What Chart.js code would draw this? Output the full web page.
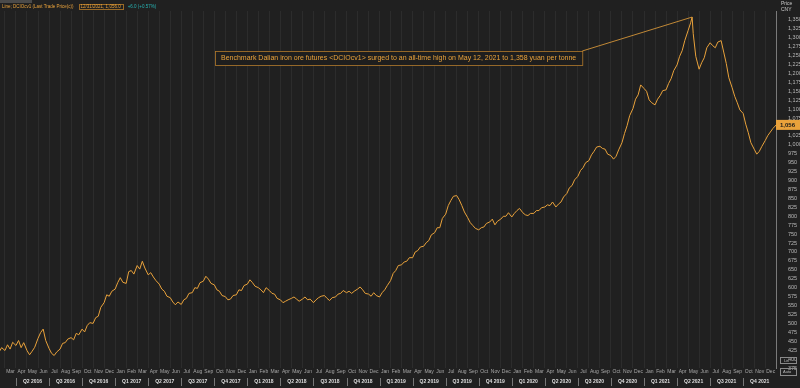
<!DOCTYPE html>
<html>
<head>
<meta charset="utf-8">
<script src="https://cdn.jsdelivr.net/npm/chart.js@4.4.1/dist/chart.umd.min.js"></script>
<style>
  html, body { margin: 0; padding: 0; background: #202020; }
  #wrap { width: 800px; height: 388px; }
</style>
</head>
<body>
<div id="wrap"><canvas id="chart" width="800" height="388"></canvas></div>
<script>
// weekly closes (CNY per tonne)
const dates = [
  '2016-02-15', '2016-02-22',
  '2016-03-01', '2016-03-08', '2016-03-15', '2016-03-22', '2016-04-01', '2016-04-08', '2016-04-15', '2016-04-22',
  '2016-05-01', '2016-05-08', '2016-05-15', '2016-05-22', '2016-06-01', '2016-06-08', '2016-06-15', '2016-06-22',
  '2016-07-01', '2016-07-08', '2016-07-15', '2016-07-22', '2016-08-01', '2016-08-08', '2016-08-15', '2016-08-22',
  '2016-09-01', '2016-09-08', '2016-09-15', '2016-09-22', '2016-10-01', '2016-10-08', '2016-10-15', '2016-10-22',
  '2016-11-01', '2016-11-08', '2016-11-15', '2016-11-22', '2016-12-01', '2016-12-08', '2016-12-15', '2016-12-22',
  '2017-01-01', '2017-01-08', '2017-01-15', '2017-01-22', '2017-02-01', '2017-02-08', '2017-02-15', '2017-02-22',
  '2017-03-01', '2017-03-08', '2017-03-15', '2017-03-22', '2017-04-01', '2017-04-08', '2017-04-15', '2017-04-22',
  '2017-05-01', '2017-05-08', '2017-05-15', '2017-05-22', '2017-06-01', '2017-06-08', '2017-06-15', '2017-06-22',
  '2017-07-01', '2017-07-08', '2017-07-15', '2017-07-22', '2017-08-01', '2017-08-08', '2017-08-15', '2017-08-22',
  '2017-09-01', '2017-09-08', '2017-09-15', '2017-09-22', '2017-10-01', '2017-10-08', '2017-10-15', '2017-10-22',
  '2017-11-01', '2017-11-08', '2017-11-15', '2017-11-22', '2017-12-01', '2017-12-08', '2017-12-15', '2017-12-22',
  '2018-01-01', '2018-01-08', '2018-01-15', '2018-01-22', '2018-02-01', '2018-02-08', '2018-02-15', '2018-02-22',
  '2018-03-01', '2018-03-08', '2018-03-15', '2018-03-22', '2018-04-01', '2018-04-08', '2018-04-15', '2018-04-22',
  '2018-05-01', '2018-05-08', '2018-05-15', '2018-05-22', '2018-06-01', '2018-06-08', '2018-06-15', '2018-06-22',
  '2018-07-01', '2018-07-08', '2018-07-15', '2018-07-22', '2018-08-01', '2018-08-08', '2018-08-15', '2018-08-22',
  '2018-09-01', '2018-09-08', '2018-09-15', '2018-09-22', '2018-10-01', '2018-10-08', '2018-10-15', '2018-10-22',
  '2018-11-01', '2018-11-08', '2018-11-15', '2018-11-22', '2018-12-01', '2018-12-08', '2018-12-15', '2018-12-22',
  '2019-01-01', '2019-01-08', '2019-01-15', '2019-01-22', '2019-02-01', '2019-02-08', '2019-02-15', '2019-02-22',
  '2019-03-01', '2019-03-08', '2019-03-15', '2019-03-22', '2019-04-01', '2019-04-08', '2019-04-15', '2019-04-22',
  '2019-05-01', '2019-05-08', '2019-05-15', '2019-05-22', '2019-06-01', '2019-06-08', '2019-06-15', '2019-06-22',
  '2019-07-01', '2019-07-08', '2019-07-15', '2019-07-22', '2019-08-01', '2019-08-08', '2019-08-15', '2019-08-22',
  '2019-09-01', '2019-09-08', '2019-09-15', '2019-09-22', '2019-10-01', '2019-10-08', '2019-10-15', '2019-10-22',
  '2019-11-01', '2019-11-08', '2019-11-15', '2019-11-22', '2019-12-01', '2019-12-08', '2019-12-15', '2019-12-22',
  '2020-01-01', '2020-01-08', '2020-01-15', '2020-01-22', '2020-02-01', '2020-02-08', '2020-02-15', '2020-02-22',
  '2020-03-01', '2020-03-08', '2020-03-15', '2020-03-22', '2020-04-01', '2020-04-08', '2020-04-15', '2020-04-22',
  '2020-05-01', '2020-05-08', '2020-05-15', '2020-05-22', '2020-06-01', '2020-06-08', '2020-06-15', '2020-06-22',
  '2020-07-01', '2020-07-08', '2020-07-15', '2020-07-22', '2020-08-01', '2020-08-08', '2020-08-15', '2020-08-22',
  '2020-09-01', '2020-09-08', '2020-09-15', '2020-09-22', '2020-10-01', '2020-10-08', '2020-10-15', '2020-10-22',
  '2020-11-01', '2020-11-08', '2020-11-15', '2020-11-22', '2020-12-01', '2020-12-08', '2020-12-15', '2020-12-22',
  '2021-01-01', '2021-01-08', '2021-01-15', '2021-01-22', '2021-02-01', '2021-02-08', '2021-02-15', '2021-02-22',
  '2021-03-01', '2021-03-08', '2021-03-15', '2021-03-22', '2021-04-01', '2021-04-08', '2021-04-15', '2021-04-22',
  '2021-05-01', '2021-05-08', '2021-05-12', '2021-05-15', '2021-05-22', '2021-06-01', '2021-06-08', '2021-06-15', '2021-06-22',
  '2021-07-01', '2021-07-08', '2021-07-15', '2021-07-22', '2021-08-01', '2021-08-08', '2021-08-15', '2021-08-22',
  '2021-09-01', '2021-09-08', '2021-09-15', '2021-09-22', '2021-10-01', '2021-10-08', '2021-10-15', '2021-10-22',
  '2021-11-01', '2021-11-08', '2021-11-15', '2021-11-22', '2021-12-01', '2021-12-08', '2021-12-15', '2021-12-22', '2021-12-31'
]
const prices = [
  420, 432,
  424, 440, 428, 447, 438, 452, 432, 446,
  424, 412, 422, 433, 458, 474, 484, 452,
  430, 416, 410, 420, 428, 444, 446, 456,
  460, 454, 472, 468, 484, 476, 494, 502,
  500, 516, 520, 545, 558, 580, 576, 590,
  596, 614, 628, 615, 612, 645, 648, 638,
  662, 652, 674, 655, 636, 642, 630, 620,
  610, 596, 590, 576, 572, 560, 552, 560,
  553, 566, 570, 584, 586, 600, 598, 614,
  618, 632, 624, 612, 608, 594, 590, 578,
  575, 566, 568, 578, 580, 594, 592, 606,
  610, 622, 614, 604, 600, 594, 586, 600,
  592, 584, 582, 570, 566, 558, 562, 566,
  570, 574, 568, 562, 568, 574, 566, 568,
  558, 566, 572, 576, 578, 570, 564, 572,
  574, 582, 584, 592, 586, 590, 584, 590,
  596, 602, 594, 584, 582, 576, 586, 578,
  574, 586, 594, 606, 620, 640, 648, 662,
  664, 672, 674, 684, 684, 700, 704, 714,
  716, 726, 732, 748, 754, 768, 768, 794,
  806, 830, 844, 856, 858, 846, 830, 812,
  796, 782, 774, 766, 762, 768, 770, 780,
  784, 792, 776, 786, 792, 800, 800, 810,
  798, 808, 816, 822, 810, 804, 802, 808,
  808, 816, 816, 824, 826, 832, 830, 840,
  826, 834, 840, 854, 864, 880, 886, 902,
  912, 928, 936, 950, 956, 972, 982, 994,
  996, 990, 988, 974, 970, 960, 968, 986,
  1006, 1032, 1054, 1082, 1102, 1128, 1140, 1168,
  1158, 1150, 1126, 1118, 1112, 1128, 1138, 1152,
  1154, 1172, 1186, 1208, 1224, 1248, 1264, 1292,
  1320, 1342, 1358, 1312, 1248, 1212, 1230, 1244, 1272,
  1286, 1278, 1272, 1288, 1292, 1260, 1228, 1188,
  1160, 1136, 1118, 1098, 1088, 1058, 1034, 1006,
  988, 974, 982, 996, 1012, 1026, 1036, 1046, 1056
]
const monthNames = ['Jan', 'Feb', 'Mar', 'Apr', 'May', 'Jun', 'Jul', 'Aug', 'Sep', 'Oct', 'Nov', 'Dec']
const quarterLabels = [
  'Q2 2016', 'Q3 2016', 'Q4 2016', 'Q1 2017', 'Q2 2017', 'Q3 2017', 'Q4 2017', 'Q1 2018', 'Q2 2018', 'Q3 2018',
  'Q4 2018', 'Q1 2019', 'Q2 2019', 'Q3 2019', 'Q4 2019', 'Q1 2020', 'Q2 2020', 'Q3 2020', 'Q4 2020', 'Q1 2021',
  'Q2 2021', 'Q3 2021', 'Q4 2021'
]
const peakDate = '2021-05-12'
const peakPrice = 1358
const noteText = 'Benchmark Dalian iron ore futures <DCIOcv1> surged to an all-time high on May 12, 2021 to 1,358 yuan per tonne'

const ORANGE = '#e9a23b'

// months since 1 Mar 2016
function monthPos(s) {
  const [y, m, d] = s.split('-').map(Number)
  return (y - 2016) * 12 + (m - 3) + (d - 1) / 30
}

const fmt = v => Math.round(v).toLocaleString('en-US')

const frame = {
  id: 'frame',
  beforeDraw(chart) {
    const ctx = chart.ctx
    ctx.save()
    ctx.fillStyle = '#202020'
    ctx.fillRect(0, 0, chart.width, chart.height)
    ctx.restore()
  },
  afterDraw(chart) {
    const { ctx, scales: { x, y }, chartArea } = chart
    ctx.save()

    // header strip
    ctx.fillStyle = '#4a4a4a'
    ctx.fillRect(0, 0, 32, 3)
    ctx.font = '4.5px Arial'
    ctx.textBaseline = 'middle'
    ctx.fillStyle = ORANGE
    const head = 'Line; DCIOcv1 (Last Trade Price(c))'
    ctx.fillText(head, 2, 7)
    const last = prices[prices.length - 1]
    const stamp = '12/31/2021, ' + fmt(last) + '.0'
    let hx = 2 + ctx.measureText(head).width + 5
    const sw = ctx.measureText(stamp).width
    ctx.strokeStyle = '#9a6a26'
    ctx.strokeRect(Math.round(hx) + 0.5, 4.5, Math.round(sw) + 4, 5)
    ctx.fillText(stamp, hx + 2, 7)
    hx += sw + 9
    ctx.fillStyle = '#27b3b3'
    ctx.fillText('+6.0 (+0.57%)', hx, 7)

    // price / currency caption on the axis
    ctx.fillStyle = '#c8c8c8'
    ctx.font = '5px Arial'
    ctx.fillText('Price', 781, 4)
    ctx.fillText('CNY', 781, 10)

    // quarter row
    ctx.font = 'bold 5px Arial'
    ctx.textAlign = 'center'
    quarterLabels.forEach((q, i) => {
      const a = x.getPixelForValue(1 + i * 3)
      const b = x.getPixelForValue(4 + i * 3)
      ctx.fillStyle = '#dedede'
      ctx.fillText(q, (a + b) / 2, 382)
      ctx.fillStyle = '#777'
      ctx.fillRect(Math.round(a), 378, 1, 8)
    })

    // last price tag
    const ly = y.getPixelForValue(last)
    ctx.fillStyle = ORANGE
    ctx.fillRect(chartArea.right, ly - 5, 24, 10)
    ctx.fillStyle = '#1a1a1a'
    ctx.font = 'bold 6px Arial'
    ctx.textAlign = 'left'
    ctx.fillText(fmt(last), chartArea.right + 4, ly)

    // little corner buttons
    ctx.strokeStyle = '#8a8a8a'
    ctx.fillStyle = '#bbb'
    ctx.font = '4px Arial'
    ctx.strokeRect(780.5, 357.5, 16, 6)
    ctx.fillText('Lin', 784, 361)
    ctx.strokeRect(780.5, 368.5, 16, 7)
    ctx.fillText('Auto', 783, 372)

    // annotation box + leader line to the peak
    ctx.font = '7px Arial'
    const w = ctx.measureText(noteText).width
    const bx = 215, by = 51, bw = w + 12, bh = 14
    const px = x.getPixelForValue(monthPos(peakDate))
    const py = y.getPixelForValue(peakPrice)
    ctx.strokeStyle = ORANGE
    ctx.lineWidth = 0.8
    ctx.beginPath()
    ctx.moveTo(bx + bw, by)
    ctx.lineTo(px, py)
    ctx.stroke()
    ctx.fillStyle = '#1e1e1e'
    ctx.fillRect(bx, by, bw, bh)
    ctx.strokeStyle = '#b27a2c'
    ctx.strokeRect(bx + 0.5, by + 0.5, bw, bh)
    ctx.fillStyle = ORANGE
    ctx.fillText(noteText, bx + 6, by + bh / 2 + 0.5)
    ctx.restore()
  }
}

new Chart(document.getElementById('chart'), {
  type: 'line',
  data: {
    datasets: [{
      data: dates.map((d, i) => ({ x: monthPos(d), y: prices[i] })),
      borderColor: ORANGE,
      borderWidth: 1,
      pointRadius: 0,
      tension: 0
    }]
  },
  options: {
    responsive: false,
    animation: false,
    layout: { padding: { top: 11, left: 0, right: 0, bottom: 0 } },
    plugins: { legend: { display: false }, tooltip: { enabled: false } },
    scales: {
      x: {
        type: 'linear',
        min: -0.45,
        max: 69.98,
        afterFit: s => { s.height = 20; s.paddingLeft = 0; s.paddingRight = 0 },
        afterBuildTicks: s => {
          const t = []
          for (let i = 0; i <= 69; i++) t.push({ value: i })
          s.ticks = t
        },
        ticks: {
          autoSkip: false,
          maxRotation: 0,
          labelOffset: 5.5,
          padding: 1,
          color: '#a8a8a8',
          font: { size: 5, family: 'Arial' },
          callback: v => monthNames[(v + 2) % 12]
        },
        grid: { color: '#2c2c2c', drawTicks: false },
        border: { display: false }
      },
      y: {
        position: 'right',
        min: 375,
        max: 1375,
        afterFit: s => { s.width = 24; s.paddingTop = 0; s.paddingBottom = 0 },
        ticks: {
          stepSize: 25,
          autoSkip: false,
          padding: 4,
          color: '#b8b8b8',
          font: { size: 5.5, family: 'Arial' },
          callback: v => v >= 1375 ? '' : fmt(v)
        },
        grid: { display: false },
        border: { display: true, color: '#7a7a7a' }
      }
    }
  },
  plugins: [frame]
})
</script>
</body>
</html>
